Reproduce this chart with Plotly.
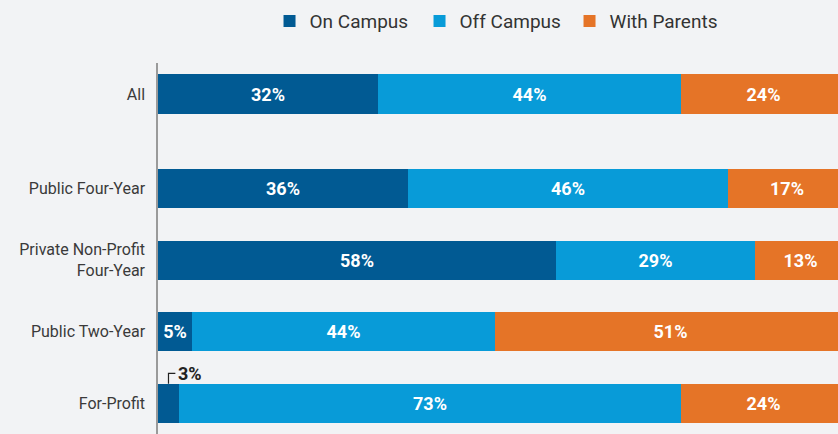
import plotly.graph_objects as go

categories = ["All", "Public Four-Year", "Private Non-Profit<br>Four-Year", "Public Two-Year", "For-Profit"]
on_campus = [32.0, 36.3, 57.9, 4.9, 3.05]
off_campus = [44.0, 46.5, 28.9, 44.1, 73.0]
with_parents = [24.0, 17.2, 13.2, 51.0, 23.95]
series_names = ["On Campus", "Off Campus", "With Parents"]

# layout constants
colors = ["#015a93", "#089bd8", "#e57427"]
bg = "#f2f3f5"
ypos = [0, 1.32, 2.32, 3.32, 4.32]
bar_w = 0.545

fig = go.Figure()
for name, vals, col in zip(series_names, [on_campus, off_campus, with_parents], colors):
    fig.add_trace(go.Bar(
        y=ypos, x=vals, name=name, orientation="h", width=bar_w,
        marker=dict(color=col, line=dict(width=0)),
        text=[f"{round(v)}%" if v >= 4 else "" for v in vals],
        textposition="inside", insidetextanchor="middle",
        textangle=0,
        textfont=dict(family="Roboto", size=18, color="white", weight="bold"),
        hoverinfo="skip",
    ))

# callout for the small For-Profit on-campus value
idx = len(categories) - 1
xc = on_campus[idx] / 2
ytop = ypos[idx] - bar_w / 2
yk = ytop - 0.145
fig.add_shape(type="path", xref="x", yref="y",
              path=f"M {xc} {ytop} L {xc} {yk} L {xc + 1.0} {yk}",
              line=dict(color="#222222", width=1.2))
fig.add_annotation(x=xc + 1.1, y=yk, xref="x", yref="y", text=f"{round(on_campus[idx])}%",
                   showarrow=False, xanchor="left", yanchor="middle",
                   font=dict(family="Roboto", size=18, color="#222222", weight="bold"))

fig.update_layout(
    width=838, height=434,
    barmode="stack",
    paper_bgcolor=bg, plot_bgcolor=bg,
    margin=dict(l=158, r=0, t=63, b=0, autoexpand=False),
    showlegend=True,
    legend=dict(orientation="h", x=0.164, xanchor="left", y=1.113, yanchor="middle",
                font=dict(family="Roboto", size=19, color="#333333"),
                entrywidth=105, entrywidthmode="pixels",
                traceorder="normal", bgcolor="rgba(0,0,0,0)"),
    xaxis=dict(range=[0, 98.84], showgrid=False, zeroline=False, showticklabels=False,
               showline=False, fixedrange=True),
    yaxis=dict(range=[4.75, -0.433], tickvals=ypos, ticktext=categories,
               showgrid=False, zeroline=False, showline=True, linecolor="#9a9a9a",
               linewidth=1.5, ticks="", ticklabelstandoff=8, fixedrange=True,
               tickfont=dict(family="Roboto", size=16, color="#3a3a3a")),
    bargap=0,
)

fig.write_html("out.html", config={"displayModeBar": False},
               post_script="document.body.style.margin='0';document.body.style.background='" + bg + "';")
